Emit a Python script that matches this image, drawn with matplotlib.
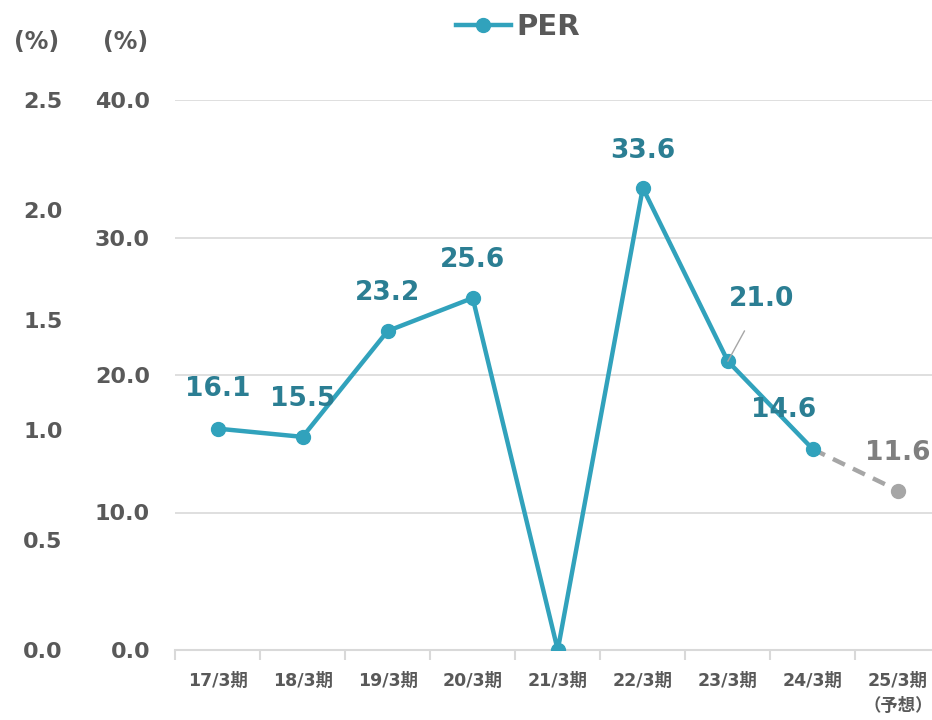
import matplotlib
matplotlib.use('Agg')
from matplotlib import pyplot as plt
from matplotlib.lines import Line2D

plt.rcParams['font.family'] = ['DejaVu Sans', 'Noto Sans CJK JP']

categories = ['17/3期', '18/3期', '19/3期', '20/3期', '21/3期', '22/3期', '23/3期', '24/3期', '25/3期\n（予想）']
per_actual = [16.1, 15.5, 23.2, 25.6, 0.0, 33.6, 21.0, 14.6]
per_forecast = [14.6, 11.6]
left_ticks = [0.0, 0.5, 1.0, 1.5, 2.0, 2.5]
right_ticks = [0.0, 10.0, 20.0, 30.0, 40.0]

teal = '#31A2BC'
teal_text = '#2B7E93'
gray = '#A6A6A6'
gray_text = '#7F7F7F'
axis_text = '#595959'

fig = plt.figure(figsize=(9.32, 7.2), dpi=100)
ax = fig.add_axes([175 / 932, 1 - 650 / 720, 1 - 175 / 932, 550 / 720])

xs = list(range(len(per_actual)))
ax.plot(xs, per_actual, color=teal, lw=3.2, marker='o', ms=10, zorder=3)
ax.plot([7, 8], per_forecast, color=gray, lw=3.2, ls=(0, (3, 2)), zorder=2)
ax.plot([8], [per_forecast[1]], color=gray, marker='o', ms=10, ls='none', zorder=3)

ax.set_xlim(-0.5, 8.4)
ax.set_ylim(0, 40)
ax.set_yticks(right_ticks)
ax.set_yticklabels([f'{v:.1f}' for v in right_ticks])
ax.grid(axis='y', color='#D9D9D9', lw=1.2)
ax.set_axisbelow(True)
for s in ['top', 'right', 'left']:
    ax.spines[s].set_visible(False)
ax.spines['bottom'].set_color('#D9D9D9')
ax.spines['bottom'].set_linewidth(1.5)
ax.tick_params(axis='y', length=0, pad=18, labelsize=16, labelcolor=axis_text)
for lab in ax.get_yticklabels():
    lab.set_fontweight('bold')

ax.set_xticks(range(len(categories)))
ax.set_xticklabels(categories, fontsize=12.5, fontweight='bold', color=axis_text, linespacing=1.5)
ax.tick_params(axis='x', length=0, pad=16)
ax.set_xticks([i + 0.5 for i in range(-1, 8)], minor=True)
ax.tick_params(axis='x', which='minor', length=7, color='#D9D9D9', width=1.5)

# left-hand axis
ax2 = ax.twinx()
ax2.set_ylim(0, 2.5)
ax2.set_yticks(left_ticks)
ax2.set_yticklabels([f'{v:.1f}' for v in left_ticks])
ax2.yaxis.tick_left()
ax2.tick_params(axis='y', length=0, pad=81, labelsize=16, labelcolor=axis_text)
for lab in ax2.get_yticklabels():
    lab.set_fontweight('bold')
for s in ax2.spines.values():
    s.set_visible(False)

fig.text(37 / 932, 1 - 42 / 720, '(%)', ha='center', va='center', fontsize=17, fontweight='bold', color=axis_text)
fig.text(126 / 932, 1 - 42 / 720, '(%)', ha='center', va='center', fontsize=17, fontweight='bold', color=axis_text)

# data labels (pixel offsets)
offsets = {0: (0, 40), 1: (0, 38), 2: (0, 38), 3: (0, 38), 5: (0, 37), 7: (-29, 39)}
for i, v in enumerate(per_actual):
    if i not in offsets:
        continue
    ax.annotate(f'{v:.1f}', (i, v), xytext=offsets[i], textcoords='offset pixels',
                ha='center', va='center', fontsize=19, fontweight='bold', color=teal_text)
ax.annotate(f'{per_actual[6]:.1f}', (6, per_actual[6]), xytext=(34, 62), textcoords='offset pixels',
            ha='center', va='center', fontsize=19, fontweight='bold', color=teal_text,
            arrowprops=dict(arrowstyle='-', color=gray, lw=1, shrinkA=13, shrinkB=0))
ax.annotate(f'{per_forecast[1]:.1f}', (8, per_forecast[1]), xytext=(0, 38), textcoords='offset pixels',
            ha='center', va='center', fontsize=19, fontweight='bold', color=gray_text)

handle = Line2D([], [], color=teal, lw=3.2, marker='o', ms=10)
fig.legend([handle], ['PER'], loc='center', bbox_to_anchor=(518 / 932, 1 - 27 / 720),
           frameon=False, handlelength=1.9, handletextpad=0.2,
           prop={'size': 21, 'weight': 'bold'}, labelcolor=axis_text)

fig.savefig('out.png', dpi=100)
